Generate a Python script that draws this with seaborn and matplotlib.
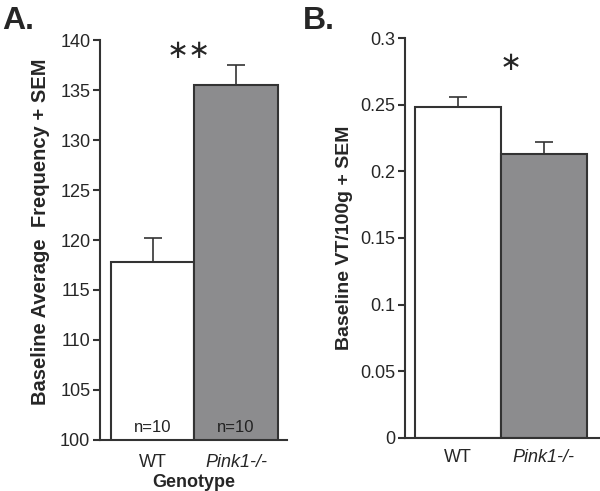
import numpy as np
import pandas as pd
import matplotlib.pyplot as plt
import seaborn as sns

# ── Data ─────────────────────────────────────────────
genotypes = ['WT', 'Pink1-/-']
freq_mean = [117.8, 135.5]
freq_sem = [2.4, 2.0]
vt_mean = [0.248, 0.213]
vt_sem = [0.008, 0.009]
n_labels = ['n=10', 'n=10']
bar_colors = ['#ffffff', '#8c8c8e']

sns.set_theme(style='ticks')
plt.rcParams['font.family'] = ['Liberation Sans', 'DejaVu Sans']

fig = plt.figure(figsize=(6, 4.91), dpi=100)
axA = fig.add_axes([0.1667, 0.1039, 0.3117, 0.8146])
axB = fig.add_axes([0.675, 0.108, 0.323, 0.8146])

edge = '#333333'


def draw_panel(ax, means, sems, ylim, yticks, ylabel, xlim, ylab_size, xpad):
    df = pd.DataFrame({'genotype': genotypes, 'value': means})
    sns.barplot(data=df, x='genotype', y='value', hue='genotype',
                palette=bar_colors, width=1.0, edgecolor=edge,
                linewidth=1.5, legend=False, ax=ax)
    ax.errorbar(genotypes, means, yerr=[[0, 0], sems], fmt='none',
                ecolor=edge, elinewidth=1.2, capsize=6.5, capthick=1.2)
    ax.set_ylim(*ylim)
    ax.set_xlim(*xlim)
    ax.set_yticks(yticks)
    ax.set_yticklabels([f'{t:g}' for t in yticks])
    ax.set_ylabel(ylabel, fontsize=ylab_size, fontweight='bold', labelpad=5)
    ax.tick_params(axis='y', labelsize=13, length=5, width=1.5,
                   color=edge, pad=2)
    ax.tick_params(axis='x', labelsize=13, length=0, pad=xpad)
    for s in ['top', 'right']:
        ax.spines[s].set_visible(False)
    for s in ['left', 'bottom']:
        ax.spines[s].set_linewidth(1.5)
        ax.spines[s].set_color(edge)
    ax.get_xticklabels()[1].set_fontstyle('italic')


# Panel A
draw_panel(axA, freq_mean, freq_sem, (100, 140), np.arange(100, 141, 5),
           'Baseline Average  Frequency + SEM', (-0.63, 1.61), 14.5, 10)
axA.yaxis.set_label_coords(-0.27, 0.52)
axA.set_xlabel('Genotype', fontsize=13, fontweight='bold', labelpad=2)
for i, lab in enumerate(n_labels):
    axA.text(i, 100.5, lab, ha='center', va='bottom', fontsize=12,
             color='#222222')
axA.text(0.43, 138.9, '\u2217\u2217', ha='center', va='center', fontsize=19,
         family='DejaVu Sans')

# Panel B
draw_panel(axB, vt_mean, vt_sem, (0, 0.3), [0, 0.05, 0.1, 0.15, 0.2, 0.25, 0.3],
           'Baseline VT/100g + SEM', (-0.62, 1.64), 14, 8)
axB.set_xlabel('')
axB.text(0.615, 0.281, '\u2217', ha='center', va='center', fontsize=19,
         family='DejaVu Sans')

fig.text(0.003, 0.988, 'A.', fontsize=23, fontweight='bold', va='top')
fig.text(0.505, 0.988, 'B.', fontsize=23, fontweight='bold', va='top')

plt.savefig('out.png', dpi=100)
plt.close()
